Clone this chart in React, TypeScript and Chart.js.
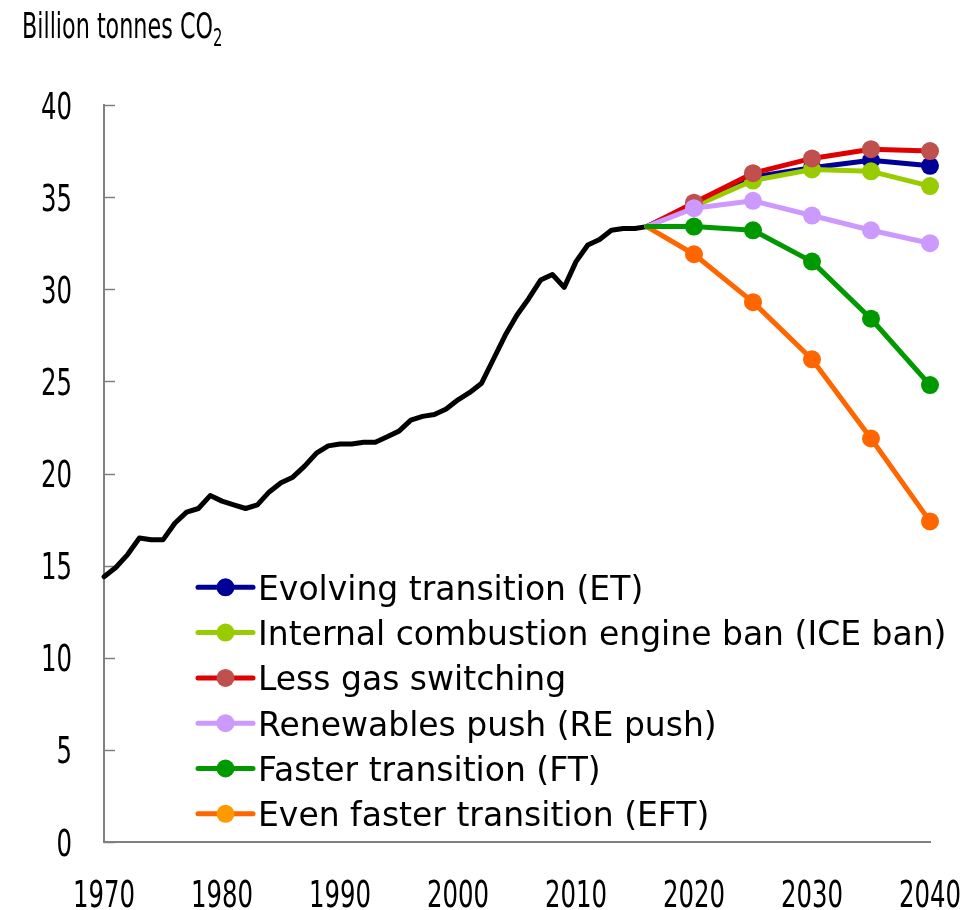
import React, { useEffect, useRef } from "react";
import { Chart, registerables } from "chart.js";

Chart.register(...registerables);

// ---------- data ----------
const histYears = [
  1970, 1971, 1972, 1973, 1974, 1975, 1976, 1977, 1978, 1979,
  1980, 1981, 1982, 1983, 1984, 1985, 1986, 1987, 1988, 1989,
  1990, 1991, 1992, 1993, 1994, 1995, 1996, 1997, 1998, 1999,
  2000, 2001, 2002, 2003, 2004, 2005, 2006, 2007, 2008, 2009,
  2010, 2011, 2012, 2013, 2014, 2015, 2016,
];
const histValues = [
  14.4, 14.9, 15.6, 16.5, 16.4, 16.4, 17.3, 17.9, 18.1, 18.8,
  18.5, 18.3, 18.1, 18.3, 19.0, 19.5, 19.8, 20.4, 21.1, 21.5,
  21.6, 21.6, 21.7, 21.7, 22.0, 22.3, 22.9, 23.1, 23.2, 23.5,
  24.0, 24.4, 24.9, 26.2, 27.5, 28.6, 29.5, 30.5, 30.8, 30.1,
  31.5, 32.4, 32.7, 33.2, 33.3, 33.3, 33.4,
];

const scenYears = [2016, 2020, 2025, 2030, 2035, 2040];
const etValues = [33.4, 34.6, 36.1, 36.6, 37.0, 36.7];
const iceValues = [33.4, 34.5, 35.9, 36.5, 36.4, 35.6];
const lgsValues = [33.4, 34.7, 36.3, 37.1, 37.6, 37.5];
const reValues = [33.4, 34.4, 34.8, 34.0, 33.2, 32.5];
const ftValues = [33.4, 33.4, 33.2, 31.5, 28.4, 24.8];
const eftValues = [33.4, 31.9, 29.3, 26.2, 21.9, 17.4];

const seriesLabels = [
  "Evolving transition (ET)",
  "Internal combustion engine ban (ICE ban)",
  "Less gas switching",
  "Renewables push (RE push)",
  "Faster transition (FT)",
  "Even faster transition (EFT)",
];

const xTickMin = 1970;
const xTickMax = 2040;
const xTickStep = 10;
const yTickMin = 0;
const yTickMax = 40;
const yTickStep = 5;

const yAxisTitle = "Billion tonnes CO";
const yAxisTitleSub = "2";

// ---------- styles ----------
const lineColors = ["#000099", "#99CC00", "#E00000", "#CC99FF", "#009900", "#FF6600"];
const markerColors = ["#000099", "#99CC00", "#C0504D", "#CC99FF", "#009900", "#FF6600"];
const legendMarkerColors = ["#000099", "#99CC00", "#C0504D", "#CC99FF", "#009900", "#FF9900"];
const drawOrder = [4, 3, 2, 1, 0, 0];

const condensedFont = "'DejaVu Sans Condensed', 'DejaVu Sans', sans-serif";
const legendFont = "'DejaVu Sans', 'Noto Sans', sans-serif";
const tickFontSize = 37;
const tickDigitWidth = 15.5; // target width of one condensed digit
const titleTargetWidth = 191;

export default function App() {
  const ref = useRef<HTMLCanvasElement>(null);
  const titleRef = useRef<HTMLDivElement>(null);
  const titleMainRef = useRef<HTMLSpanElement>(null);

  useEffect(() => {
    if (titleRef.current && titleMainRef.current) {
      const w = titleMainRef.current.getBoundingClientRect().width;
      if (w > 0) titleRef.current.style.transform = `scaleX(${titleTargetWidth / w})`;
    }

    const canvas = ref.current;
    if (!canvas) return;

    const scenarioValues = [etValues, iceValues, lgsValues, reValues, ftValues, eftValues];

    const datasets: any[] = scenarioValues.map((vals, i) => ({
      label: seriesLabels[i],
      data: scenYears.map((x, j) => ({ x, y: vals[j] })),
      borderColor: lineColors[i],
      backgroundColor: markerColors[i],
      borderWidth: 5,
      pointRadius: (c: any) => (c.dataIndex === 0 ? 0 : 9),
      pointHoverRadius: (c: any) => (c.dataIndex === 0 ? 0 : 9),
      pointBackgroundColor: markerColors[i],
      pointBorderWidth: 0,
      borderJoinStyle: "round",
      borderCapStyle: "round",
      tension: 0,
      clip: false,
      order: drawOrder[i],
    }));

    datasets.push({
      label: "History",
      data: histYears.map((x, j) => ({ x, y: histValues[j] })),
      borderColor: "#000000",
      borderWidth: 5,
      pointRadius: 0,
      borderJoinStyle: "round",
      borderCapStyle: "round",
      tension: 0,
      clip: false,
      order: 5,
    });

    const innerTicks = {
      id: "innerTicks",
      beforeDatasetsDraw(chart: any) {
        const y = chart.scales.y;
        const ctx = chart.ctx;
        const left = chart.chartArea.left;
        ctx.save();
        ctx.strokeStyle = "#808080";
        ctx.lineWidth = 1.5;
        y.ticks.forEach((t: any) => {
          const py = Math.round(y.getPixelForValue(t.value)) + 0.5;
          ctx.beginPath();
          ctx.moveTo(left, py);
          ctx.lineTo(left + 11, py);
          ctx.stroke();
        });
        ctx.restore();
      },
    };

    // condensed tick labels, placed through the chart's own scales
    const condensedTickLabels = {
      id: "condensedTickLabels",
      afterDraw(chart: any) {
        const ctx = chart.ctx;
        ctx.save();
        ctx.font = `${tickFontSize}px ${condensedFont}`;
        ctx.fillStyle = "#000000";
        ctx.textBaseline = "alphabetic";
        const sx = (tickDigitWidth * 4) / ctx.measureText("0000").width;
        const xs = chart.scales.x;
        xs.ticks.forEach((t: any) => {
          const px = xs.getPixelForValue(t.value);
          const label = String(t.value);
          ctx.save();
          ctx.translate(px, chart.chartArea.bottom + 65);
          ctx.scale(sx, 1);
          ctx.textAlign = "center";
          ctx.fillText(label, 0, 0);
          ctx.restore();
        });
        const ys = chart.scales.y;
        ys.ticks.forEach((t: any) => {
          const py = ys.getPixelForValue(t.value);
          const label = String(t.value);
          ctx.save();
          ctx.translate(72, py + 13.5);
          ctx.scale(sx, 1);
          ctx.textAlign = "right";
          ctx.fillText(label, 0, 0);
          ctx.restore();
        });
        ctx.restore();
      },
    };

    const customLegend = {
      id: "customLegend",
      afterDraw(chart: any) {
        const ctx = chart.ctx;
        const x0 = 198;
        const x1 = 253;
        const mx = 225.5;
        const tx = 258;
        const y0 = 587.3;
        const dy = 45.3;
        ctx.save();
        ctx.font = `33px ${legendFont}`;
        ctx.textBaseline = "alphabetic";
        ctx.textAlign = "left";
        seriesLabels.forEach((label, i) => {
          const cy = y0 + i * dy;
          ctx.strokeStyle = lineColors[i];
          ctx.lineWidth = 5;
          ctx.lineCap = "round";
          ctx.beginPath();
          ctx.moveTo(x0, cy);
          ctx.lineTo(x1, cy);
          ctx.stroke();
          ctx.fillStyle = legendMarkerColors[i];
          ctx.beginPath();
          ctx.arc(mx, cy, 9, 0, Math.PI * 2);
          ctx.fill();
          ctx.fillStyle = "#000000";
          ctx.fillText(label, tx, cy + 12.5);
        });
        ctx.restore();
      },
    };

    const chart = new Chart(canvas, {
      type: "line",
      data: { datasets },
      options: {
        responsive: false,
        animation: false,
        events: [],
        layout: { padding: { top: 105, right: 47, left: 0, bottom: 0 } },
        plugins: {
          legend: { display: false },
          tooltip: { enabled: false },
          title: { display: false },
        },
        scales: {
          x: {
            type: "linear",
            min: xTickMin,
            max: xTickMax,
            ticks: {
              display: false,
              stepSize: xTickStep,
              autoSkip: false,
              maxRotation: 0,
            },
            grid: { display: true, drawOnChartArea: false, drawTicks: false },
            border: { display: true, color: "#808080", width: 2 },
            afterFit: (s: any) => {
              s.height = 68;
            },
          },
          y: {
            type: "linear",
            min: yTickMin,
            max: yTickMax,
            ticks: {
              display: false,
              stepSize: yTickStep,
            },
            grid: { display: true, drawOnChartArea: false, drawTicks: false },
            border: { display: true, color: "#808080", width: 2 },
            afterFit: (s: any) => {
              s.width = 104;
            },
          },
        },
      },
      plugins: [innerTicks, condensedTickLabels, customLegend],
    });

    return () => chart.destroy();
  }, []);

  return (
    <div style={{ position: "absolute", left: 0, top: 0, width: 977, height: 910, background: "#ffffff" }}>
      <canvas ref={ref} width={977} height={910} style={{ display: "block" }} />
      <div
        ref={titleRef}
        style={{
          position: "absolute",
          left: 22,
          top: 8,
          fontFamily: condensedFont,
          fontSize: 36,
          lineHeight: "36px",
          color: "#000000",
          whiteSpace: "nowrap",
          transformOrigin: "0 0",
        }}
      >
        <span ref={titleMainRef}>{yAxisTitle}</span>
        <sub style={{ fontSize: 24 }}>{yAxisTitleSub}</sub>
      </div>
    </div>
  );
}
